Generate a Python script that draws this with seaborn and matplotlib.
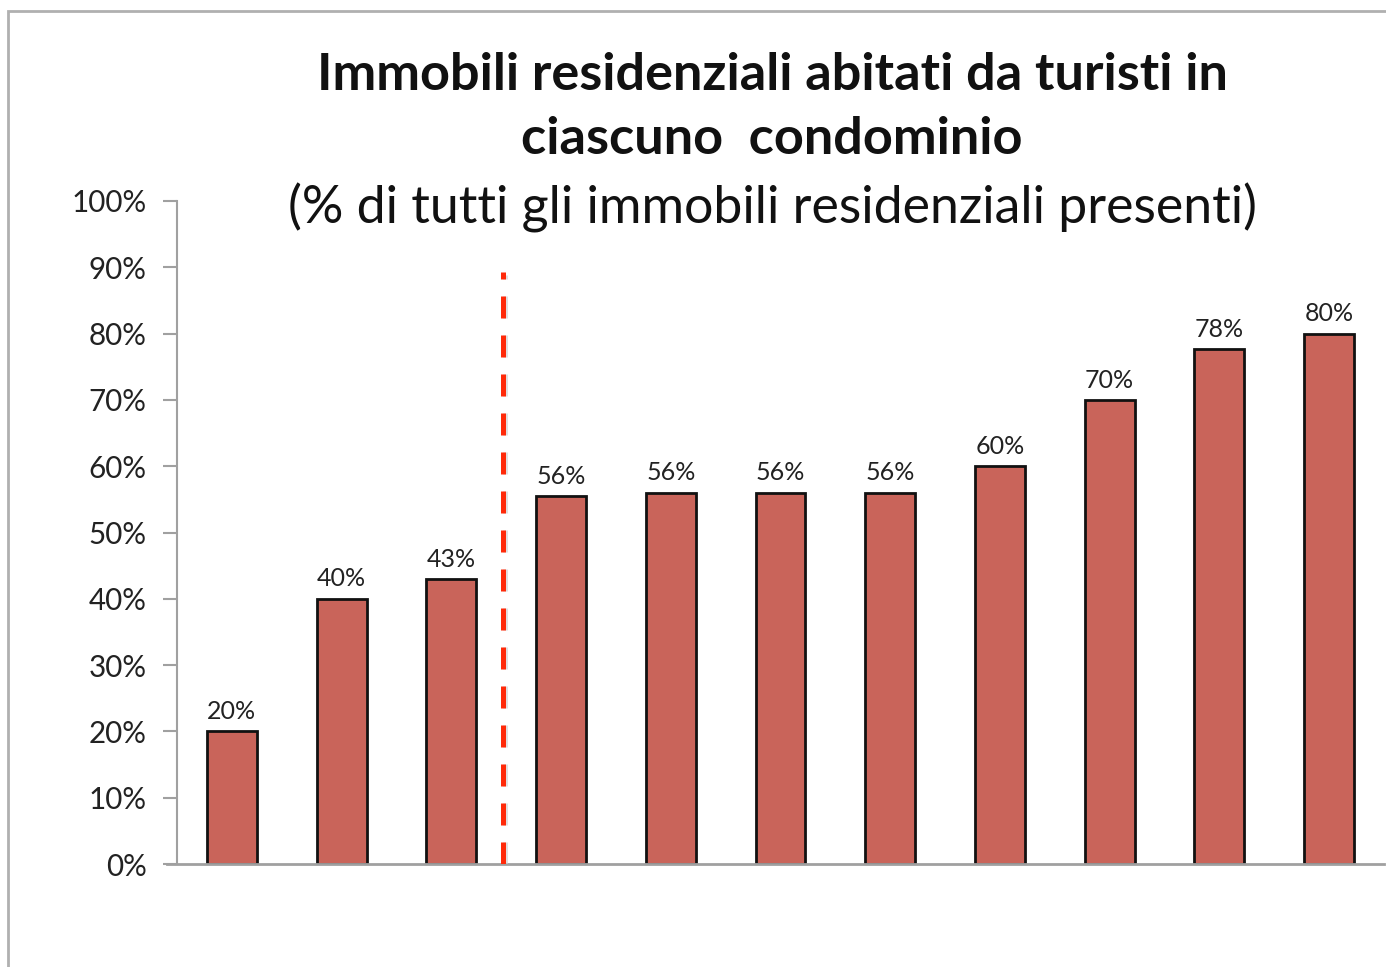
import matplotlib
matplotlib.use("Agg")
import matplotlib.pyplot as plt
import matplotlib.patches as mpatches
import seaborn as sns
import pandas as pd
import numpy as np
from matplotlib.ticker import FuncFormatter, MultipleLocator

# condomini ordinati per quota di immobili abitati da turisti
condomini = ["C1", "C2", "C3", "C4", "C5", "C6", "C7", "C8", "C9", "C10", "C11"]
quota_turisti = [20, 40, 43, 55.5, 56, 56, 56, 60, 70, 77.7, 80]
etichette = ["20%", "40%", "43%", "56%", "56%", "56%", "56%", "60%", "70%", "78%", "80%"]
soglia_x = 2.47   # linea tratteggiata tra il 3° e il 4° condominio
soglia_top = 89.3

sns.set_theme(style="white")
plt.rcParams['font.family'] = ['Lato', 'DejaVu Sans']

W, H = 1386, 967
fig = plt.figure(figsize=(W / 100, H / 100), dpi=100)
ax = fig.add_axes([177 / W, 1 - 864 / H, (1384 - 177) / W, (864 - 201) / H])

df = pd.DataFrame({"condominio": condomini, "quota": quota_turisti})
sns.barplot(data=df, x="condominio", y="quota", color="#C9645A", saturation=1,
            width=0.455, edgecolor="#111111", linewidth=2, ax=ax)
ax.bar_label(ax.containers[0], labels=etichette, padding=6, fontsize=18, color="#222222")

# linea tratteggiata con leggera ombra
ax.vlines(soglia_x + 0.02, 0, soglia_top - 0.4, colors="#cccccc", linewidth=3.6,
          linestyles=(0, (4.4, 3.4)), alpha=0.6, zorder=4)
ax.vlines(soglia_x, 0, soglia_top, colors="#FF2A0A", linewidth=3.6,
          linestyles=(0, (4.4, 3.4)), zorder=5)

ax.set_xlim(-0.5, 10.5)
ax.set_ylim(0, 100)
ax.yaxis.set_major_locator(MultipleLocator(10))
ax.yaxis.set_major_formatter(FuncFormatter(lambda v, p: f"{v:.0f}%"))
ax.set_xlabel("")
ax.set_ylabel("")
ax.set_xticks([])
ax.tick_params(axis="y", which="major", left=True, length=10, width=1.5, color="#a0a0a0",
               labelsize=21.3, labelcolor="#222222", pad=12)
for s in ["top", "right"]:
    ax.spines[s].set_visible(False)
ax.spines["left"].set_color("#a0a0a0")
ax.spines["left"].set_linewidth(1.5)
ax.spines["bottom"].set_color("#a0a0a0")
ax.spines["bottom"].set_linewidth(2)
ax.spines["bottom"].set_bounds(-0.5 - 10 / 109.7, 10.5)
ax.patch.set_alpha(0)

# titolo
fig.text(772 / W, 1 - 75 / H, "Immobili residenziali abitati da turisti in",
         ha="center", va="center", fontsize=37.6, fontweight="bold", color="#111111")
fig.text(772 / W, 1 - 140 / H, "ciascuno  condominio",
         ha="center", va="center", fontsize=37.6, fontweight="bold", color="#111111")
fig.text(772 / W, 1 - 208 / H, "(% di tutti gli immobili residenziali presenti)",
         ha="center", va="center", fontsize=37.4, color="#111111")

# cornice grigia del grafico
fig.patches.append(mpatches.Rectangle((8 / W, -0.1), 1.2, 1 - 11 / H + 0.1,
                                      transform=fig.transFigure, fill=False,
                                      edgecolor="#b0b0b0", linewidth=2))

fig.savefig("out.png", dpi=100)
